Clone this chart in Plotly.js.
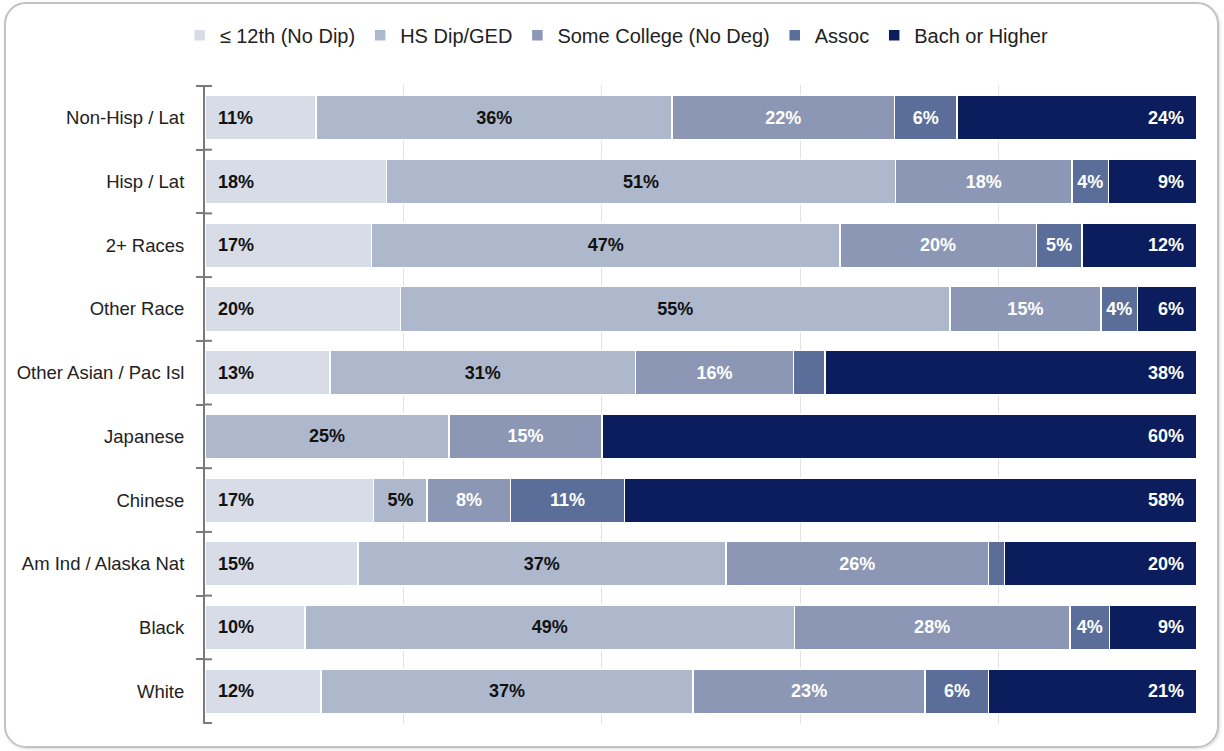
<!DOCTYPE html>
<html>
<head>
<meta charset="utf-8">
<script src="https://cdn.plot.ly/plotly-3.0.1.min.js"></script>
<style>
  html, body { margin: 0; padding: 0; background: #fff; }
  #wrap { position: relative; width: 1224px; height: 751px; }
  #chart { width: 1224px; height: 751px; }
  #frame { position: absolute; left: 4px; top: 2px; width: 1211px; height: 742px;
           border: 2px solid #c2c2c2; border-radius: 22px; pointer-events: none;
           box-shadow: 1px 1px 3px rgba(0,0,0,0.15); }
</style>
</head>
<body>
<div id="wrap">
  <div id="chart"></div>
  <div id="frame"></div>
</div>
<script>
// Categories, top to bottom
const groups = ["Non-Hisp / Lat", "Hisp / Lat", "2+ Races", "Other Race", "Other Asian / Pac Isl",
                "Japanese", "Chinese", "Am Ind / Alaska Nat", "Black", "White"];

const seriesNames = ["\u2264 12th (No Dip)", "HS Dip/GED", "Some College (No Deg)", "Assoc", "Bach or Higher"];

// Share of population (%) by education level
const lessThan12 = [11.2, 18.3, 16.8, 19.7, 12.6, 0.0, 17.0, 15.4, 10.1, 11.7];
const hsDip      = [35.9, 51.3, 47.2, 55.4, 30.8, 24.6, 5.4, 37.1, 49.3, 37.5];
const someColl   = [22.4, 17.8, 19.8, 15.2, 15.9, 15.4, 8.4, 26.5, 27.8, 23.4];
const assoc      = [6.3, 3.7, 4.6, 3.7, 3.2, 0.0, 11.5, 1.6, 4.0, 6.4];
const bachPlus   = [24.2, 8.9, 11.6, 6.0, 37.5, 60.0, 57.7, 19.4, 8.8, 21.0];

// Printed labels (blank where the chart shows none)
const lblLess12 = ["11%", "18%", "17%", "20%", "13%", "", "17%", "15%", "10%", "12%"];
const lblHs     = ["36%", "51%", "47%", "55%", "31%", "25%", "5%", "37%", "49%", "37%"];
const lblSome   = ["22%", "18%", "20%", "15%", "16%", "15%", "8%", "26%", "28%", "23%"];
const lblAssoc  = ["6%", "4%", "5%", "4%", "", "", "11%", "", "4%", "6%"];
const lblBach   = ["24%", "9%", "12%", "6%", "38%", "60%", "58%", "20%", "9%", "21%"];

const colors = ["#d7dce7", "#adb8cd", "#8b97b4", "#5a6e99", "#0b1d5d"];
const textColors = ["#111111", "#111111", "#ffffff", "#ffffff", "#ffffff"];
const anchors = ["start", "middle", "middle", "middle", "end"];

const values = [lessThan12, hsDip, someColl, assoc, bachPlus];
const labels = [lblLess12, lblHs, lblSome, lblAssoc, lblBach];
const pad = "\u00a0\u00a0";

const traces = values.map((vals, i) => ({
  type: "bar",
  orientation: "h",
  name: seriesNames[i],
  y: groups,
  x: vals,
  text: labels[i].map(t => t === "" ? "" : (i === 0 ? pad + t : (i === 4 ? t + pad : t))),
  textposition: "inside",
  insidetextanchor: anchors[i],
  textangle: 0,
  insidetextfont: { family: "Liberation Sans, Arial, sans-serif", size: 18, color: textColors[i], weight: "bold" },
  marker: { color: colors[i], line: { color: "#ffffff", width: 1.5 } },
  hoverinfo: "skip"
}));

// inner half of the crossing tick marks at category boundaries
const tickShapes = [];
for (let k = 0; k <= groups.length; k++) {
  tickShapes.push({
    type: "line", layer: "below",
    xref: "x", xsizemode: "pixel", xanchor: 0, x0: 0, x1: 7,
    yref: "y", y0: k - 0.5, y1: k - 0.5,
    line: { color: "#7a7a7a", width: 2 }
  });
}

const layout = {
  width: 1224,
  height: 751,
  barmode: "stack",
  bargap: 0.3,
  margin: { l: 205, r: 27, t: 85, b: 27 },
  paper_bgcolor: "rgba(0,0,0,0)",
  plot_bgcolor: "#ffffff",
  font: { family: "Liberation Sans, Arial, sans-serif", size: 18, color: "#222222" },
  showlegend: true,
  legend: {
    orientation: "h",
    x: 0.415, xanchor: "center",
    y: 1.078, yanchor: "middle",
    traceorder: "normal",
    font: { size: 20, color: "#222222" },
    itemclick: false
  },
  shapes: tickShapes,
  xaxis: {
    range: [0, 100],
    showticklabels: false,
    showgrid: true,
    gridcolor: "#e3e3e3",
    gridwidth: 1,
    dtick: 20,
    zeroline: false,
    showline: false,
    ticks: ""
  },
  yaxis: {
    type: "category",
    autorange: "reversed",
    showline: true,
    linecolor: "#7a7a7a",
    linewidth: 2,
    ticks: "outside",
    tickson: "boundaries",
    ticklen: 7,
    tickwidth: 2,
    tickcolor: "#7a7a7a",
    ticklabelstandoff: 15,
    showgrid: false,
    tickfont: { size: 18.5, color: "#222222" }
  }
};

Plotly.newPlot("chart", traces, layout, { staticPlot: true, displayModeBar: false });
</script>
</body>
</html>
